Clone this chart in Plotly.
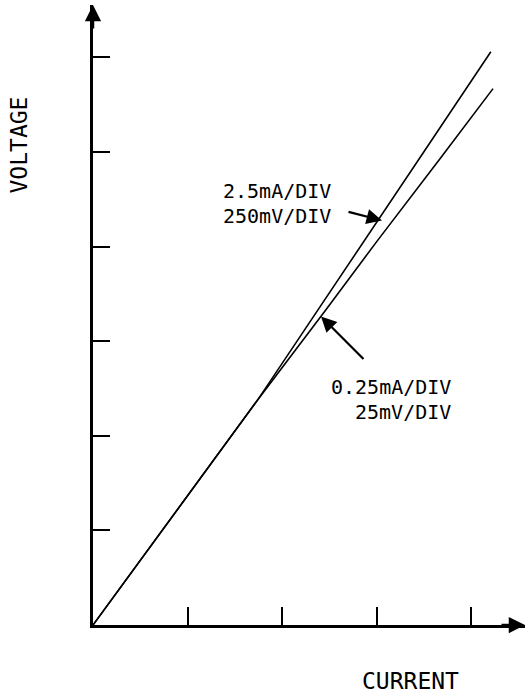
import plotly.graph_objects as go

# Data (in divisions)
x_hi = [0, 0.9, 1.75, 2.4, 3.0, 3.5, 4.21]        # 2.5mA/DIV, 250mV/DIV
y_hi = [0, 1.23, 2.39, 3.36, 4.25, 5.0, 6.06]
x_lo = [0, 0.9, 1.75, 2.455, 3.0, 3.68, 4.233]    # 0.25mA/DIV, 25mV/DIV
y_lo = [0, 1.23, 2.39, 3.32, 4.05, 4.94, 5.67]
x_ticks = [1, 2, 3, 4]
y_ticks = [1, 2, 3, 4, 5, 6]
label_hi = ["2.5mA/DIV", "250mV/DIV"]
label_lo = ["0.25mA/DIV", "25mV/DIV"]

W, H = 525, 696
ML, MR, MT, MB = 93, 0, 5, 71
PW, PH = W - ML - MR, H - MT - MB
XR = PW / 94.5
YR = PH / 94.6

FONT = "DejaVu Sans Mono"


def px_to_paper(px, py):
    return (px - ML) / PW, (H - MB - py) / PH


fig = go.Figure()
fig.add_trace(go.Scatter(x=x_hi, y=y_hi, mode="lines",
                         line=dict(color="black", width=1.6),
                         showlegend=False, hoverinfo="skip"))
fig.add_trace(go.Scatter(x=x_lo, y=y_lo, mode="lines",
                         line=dict(color="black", width=1.6),
                         showlegend=False, hoverinfo="skip"))

ann = []
# axis arrowheads
ann.append(dict(x=XR, y=0, xref="x", yref="y", ax=-25, ay=0, axref="pixel", ayref="pixel",
                showarrow=True, arrowhead=2, arrowsize=1.3, arrowwidth=2.5, arrowcolor="black",
                text="", standoff=0))
ann.append(dict(x=0, y=YR, xref="x", yref="y", ax=0, ay=25,
                showarrow=True, arrowhead=2, arrowsize=1.3, arrowwidth=2.5, arrowcolor="black",
                text="", standoff=0))
# labels
lf = dict(family=FONT, size=20, color="black")
ann.append(dict(x=2.54, y=4.59, xref="x", yref="y", text=label_hi[0], showarrow=False,
                xanchor="right", yanchor="middle", font=lf))
ann.append(dict(x=2.54, y=4.32, xref="x", yref="y", text=label_hi[1], showarrow=False,
                xanchor="right", yanchor="middle", font=lf))
ann.append(dict(x=(382 - ML) / 94.5, y=(625.5 - 221) / 94.6, xref="x", yref="y",
                ax=(347 - ML) / 94.5, ay=(625.5 - 212) / 94.6, axref="x", ayref="y",
                showarrow=True, arrowhead=2, arrowsize=1.4, arrowwidth=2.2, arrowcolor="black",
                text="", standoff=0))
ann.append(dict(x=3.81, y=2.52, xref="x", yref="y", text=label_lo[0], showarrow=False,
                xanchor="right", yanchor="middle", font=lf))
ann.append(dict(x=3.81, y=2.25, xref="x", yref="y", text=label_lo[1], showarrow=False,
                xanchor="right", yanchor="middle", font=lf))
ann.append(dict(x=(321 - ML) / 94.5, y=(625.5 - 317) / 94.6, xref="x", yref="y",
                ax=(365 - ML) / 94.5, ay=(625.5 - 361) / 94.6, axref="x", ayref="y",
                showarrow=True, arrowhead=2, arrowsize=1.4, arrowwidth=2.2, arrowcolor="black",
                text="", standoff=0))
# axis titles
tf = dict(family=FONT, size=23, color="black")
cx, cy = px_to_paper(410, 681)
ann.append(dict(x=cx, y=cy, xref="paper", yref="paper", text="CURRENT",
                showarrow=False, xanchor="center", yanchor="middle", font=tf))
vx, vy = px_to_paper(18.5, 145)
ann.append(dict(x=vx, y=vy, xref="paper", yref="paper", text="VOLTAGE",
                showarrow=False, xanchor="center", yanchor="middle", textangle=-90, font=tf))

fig.update_layout(
    width=W, height=H, margin=dict(l=ML, r=MR, t=MT, b=MB),
    paper_bgcolor="white", plot_bgcolor="white",
    annotations=ann,
    xaxis=dict(range=[0, XR], showgrid=False, zeroline=False, showline=True, linecolor="black",
               linewidth=3, ticks="inside", ticklen=18, tickwidth=2, tickcolor="black",
               tickvals=x_ticks, showticklabels=False, fixedrange=True),
    yaxis=dict(range=[0, YR], showgrid=False, zeroline=False, showline=True, linecolor="black",
               linewidth=3, ticks="inside", ticklen=17, tickwidth=2, tickcolor="black",
               tickvals=y_ticks, showticklabels=False, fixedrange=True),
)
fig.write_html("out.html", config={"displayModeBar": False})
